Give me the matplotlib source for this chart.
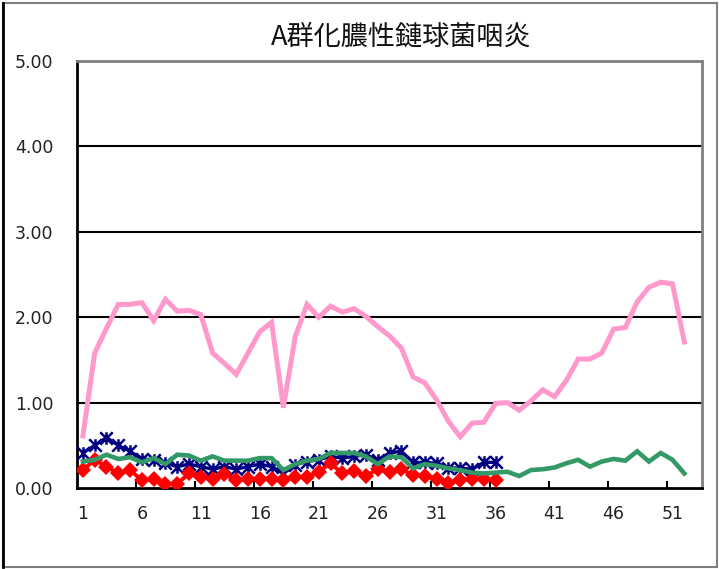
import numpy as np
import matplotlib.pyplot as plt
from matplotlib.patches import Rectangle
from matplotlib.lines import Line2D
from matplotlib.path import Path

TITLE = "A群化膿性鏈球菌咽炎"

weeks_all = list(range(1, 53))
weeks_cur = list(range(1, 37))

# pink: long-term line, weeks 1-52
pink = [0.61, 1.58, 1.87, 2.15, 2.15, 2.17, 1.96, 2.21, 2.07, 2.08,
        2.03, 1.58, 1.46, 1.33, 1.58, 1.83, 1.94, 0.94, 1.77, 2.15,
        2.00, 2.13, 2.06, 2.10, 2.01, 1.89, 1.78, 1.64, 1.30, 1.23,
        1.03, 0.78, 0.60, 0.76, 0.77, 0.99, 1.00, 0.91, 1.02, 1.15,
        1.07, 1.26, 1.51, 1.51, 1.58, 1.86, 1.88, 2.18, 2.35, 2.41,
        2.39, 1.71]

# green: weeks 1-52
green = [0.31, 0.33, 0.39, 0.34, 0.36, 0.30, 0.35, 0.28, 0.39, 0.38,
         0.32, 0.37, 0.32, 0.32, 0.32, 0.35, 0.35, 0.21, 0.28, 0.32,
         0.34, 0.41, 0.41, 0.41, 0.37, 0.28, 0.37, 0.36, 0.23, 0.28,
         0.26, 0.23, 0.21, 0.18, 0.17, 0.18, 0.19, 0.14, 0.21, 0.22,
         0.24, 0.29, 0.33, 0.25, 0.31, 0.34, 0.32, 0.43, 0.31, 0.41,
         0.33, 0.17]

# navy (asterisk markers): weeks 1-36
navy = [0.41, 0.50, 0.59, 0.50, 0.43, 0.34, 0.33, 0.29, 0.25, 0.28,
        0.25, 0.22, 0.25, 0.22, 0.25, 0.28, 0.25, 0.17, 0.27, 0.31,
        0.33, 0.37, 0.35, 0.37, 0.39, 0.33, 0.41, 0.43, 0.30, 0.30,
        0.29, 0.24, 0.23, 0.22, 0.30, 0.30]

# red (diamond markers): weeks 1-36
red = [0.21, 0.33, 0.25, 0.17, 0.21, 0.09, 0.11, 0.05, 0.05, 0.17,
       0.13, 0.11, 0.16, 0.09, 0.10, 0.11, 0.11, 0.09, 0.13, 0.13,
       0.19, 0.29, 0.17, 0.20, 0.14, 0.22, 0.19, 0.22, 0.15, 0.14,
       0.11, 0.06, 0.09, 0.11, 0.10, 0.09]

xlabels = [str(w) for w in range(1, 53, 5)]
yticks = [0, 1, 2, 3, 4, 5]

# excel-style star marker: an x plus a vertical stroke
star = Path([(-1, -1), (1, 1), (-1, 1), (1, -1), (0, -1), (0, 1)],
            [Path.MOVETO, Path.LINETO, Path.MOVETO, Path.LINETO,
             Path.MOVETO, Path.LINETO])

fig = plt.figure(figsize=(7.19, 5.69), dpi=100)
ax = fig.add_axes([77 / 719, 1 - 488 / 569, (702 - 77) / 719, (488 - 61) / 569])

# ── series ───────────────────────────────
ax.plot(weeks_cur, navy, color="#000080", lw=2.4, marker=star,
        ms=9, mew=1.8, zorder=3, solid_joinstyle="miter")
ax.plot(weeks_cur, red, color="#FF0000", lw=2.8, marker="D",
        ms=8, mew=0, zorder=4)
ax.plot(weeks_all, green, color="#339966", lw=3.3, zorder=5,
        solid_joinstyle="miter")
ax.plot(weeks_all, pink, color="#FF99CC", lw=3.6, zorder=6,
        solid_joinstyle="miter")

# ── axes styling ─────────────────────────
ax.set_xlim(0.5, 53.5)
ax.set_ylim(0, 5)
ax.set_yticks(yticks)
ax.set_yticklabels([f"{v:.2f}" for v in yticks])
ax.set_xticks(range(1, 53, 5))
ax.set_xticklabels(xlabels)
ax.set_xticks(np.arange(5.5, 53, 5), minor=True)
ax.tick_params(axis="x", which="major", length=0, pad=12, labelsize=12.5)
ax.tick_params(axis="x", which="minor", direction="in", length=5, width=1.5)
ax.tick_params(axis="y", length=0, pad=17, labelsize=12.5)
for lab in ax.get_yticklabels() + ax.get_xticklabels():
    lab.set_color("#222222")

for v in yticks[1:5]:
    ax.axhline(v, color="black", lw=1.5, zorder=1)

ax.spines["left"].set_color("black")
ax.spines["left"].set_linewidth(2)
ax.spines["bottom"].set_color("black")
ax.spines["bottom"].set_linewidth(2)
ax.spines["top"].set_color("#808080")
ax.spines["top"].set_linewidth(2)
ax.spines["right"].set_color("#808080")
ax.spines["right"].set_linewidth(2)

fig.text(401 / 719, 1 - 37 / 569, TITLE, ha="center", va="center",
         fontsize=19.5, family=["Noto Sans CJK JP", "DejaVu Sans"], color="#111111")

# outer chart border
fig.patches.append(Rectangle((3 / 719, 2 / 569), 714 / 719, 564 / 569,
                             transform=fig.transFigure, fill=False,
                             edgecolor="#808080", lw=1.5))
fig.lines.append(Line2D([3 / 719, 3 / 719], [2 / 569, 566 / 569],
                        transform=fig.transFigure, color="black", lw=2))

fig.savefig("out.png", dpi=100)
